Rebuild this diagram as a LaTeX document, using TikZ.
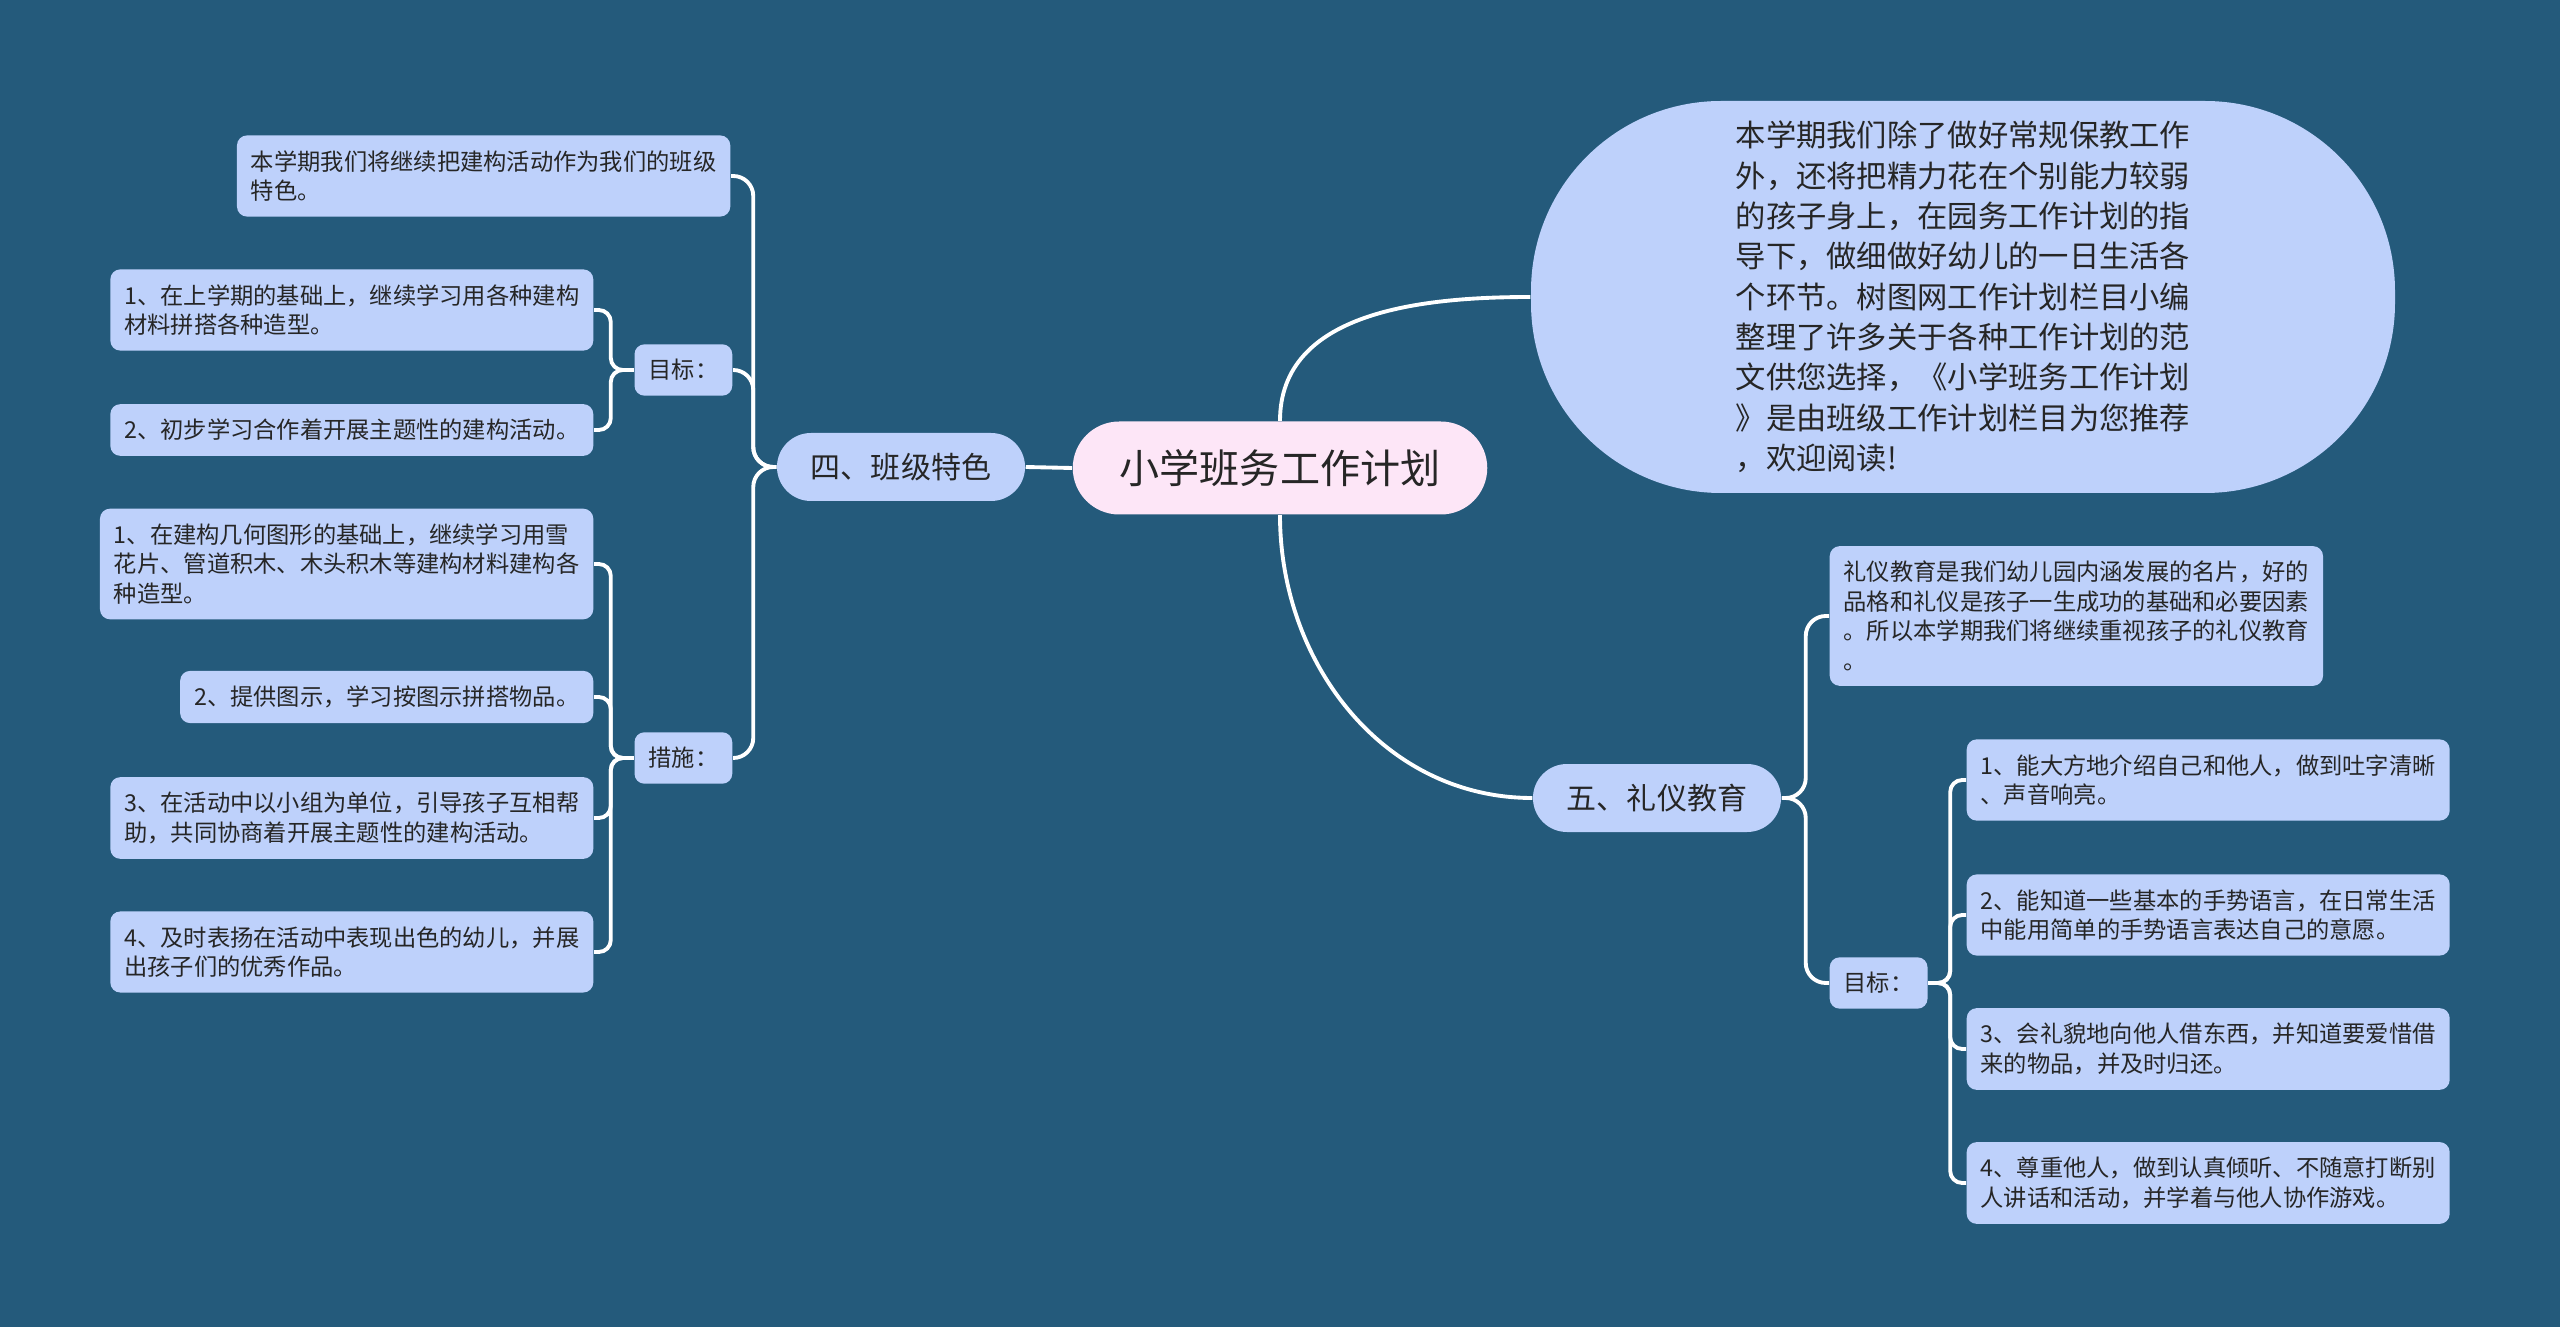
\documentclass[tikz,border=0pt]{standalone}
\usepackage{fontspec}
\setmainfont{Noto Sans CJK SC}
\definecolor{bgc}{RGB}{36,90,123}
\definecolor{boxc}{RGB}{190,209,251}
\definecolor{rootc}{RGB}{253,230,247}
\definecolor{txtc}{RGB}{38,38,38}
\begin{document}
\begin{tikzpicture}[
    x=0.1mm, y=-0.1mm,
    leaf/.style={fill=boxc, text=txtc, rounded corners=1mm, align=left, inner xsep=1.4mm, inner ysep=1.5mm, font=\fontsize{6.62pt}{8.4pt}\selectfont},
    branch/.style={fill=boxc, text=txtc, rounded corners=3.4mm, minimum height=6.8mm, inner xsep=3.4mm, font=\fontsize{8.54pt}{10pt}\selectfont},
    rootbox/.style={fill=rootc, text=txtc, rounded corners=4.65mm, minimum height=9.3mm, inner xsep=4.7mm, font=\fontsize{11.4pt}{13pt}\selectfont},
    introbox/.style={fill=boxc, text=txtc, rounded corners=19mm, minimum width=86.4mm, minimum height=39.2mm, align=left, font=\fontsize{8.62pt}{11.47pt}\selectfont},
    conn/.style={draw=white, line width=1.1pt, rounded corners=1.2mm},
    spine/.style={draw=white, line width=1.1pt, rounded corners=2mm}
]
\fill[bgc] (0,0) rectangle (2560,1327);

\node[rootbox] (root) at (1280,468) {小学班务工作计划};

% 四、班级特色
\node[branch] (sec4) at (901,467) {四、班级特色};
\node[leaf, anchor=east] (feat) at (731,176) {本学期我们将继续把建构活动作为我们的班级\\特色。};
\node[leaf, anchor=east] (goalL) at (733,370) {目标：};
\node[leaf, anchor=east] (goalL1) at (594,310) {1、在上学期的基础上，继续学习用各种建构\\材料拼搭各种造型。};
\node[leaf, anchor=east] (goalL2) at (594,430) {2、初步学习合作着开展主题性的建构活动。};
\node[leaf, anchor=east] (meas) at (733,758) {措施：};
\node[leaf, anchor=east] (meas1) at (594,564) {1、在建构几何图形的基础上，继续学习用雪\\花片、管道积木、木头积木等建构材料建构各\\种造型。};
\node[leaf, anchor=east] (meas2) at (594,697) {2、提供图示，学习按图示拼搭物品。};
\node[leaf, anchor=east] (meas3) at (594,818) {3、在活动中以小组为单位，引导孩子互相帮\\助，共同协商着开展主题性的建构活动。};
\node[leaf, anchor=east] (meas4) at (594,952) {4、及时表扬在活动中表现出色的幼儿，并展\\出孩子们的优秀作品。};

% intro
\node[introbox] (intro) at (1963,297) {本学期我们除了做好常规保教工作\\外，还将把精力花在个别能力较弱\\的孩子身上，在园务工作计划的指\\导下，做细做好幼儿的一日生活各\\个环节。树图网工作计划栏目小编\\整理了许多关于各种工作计划的范\\文供您选择，《小学班务工作计划\\》是由班级工作计划栏目为您推荐\\，欢迎阅读!};

% 五、礼仪教育
\node[branch] (sec5) at (1657,798) {五、礼仪教育};
\node[leaf, anchor=west] (manner) at (1829,616) {礼仪教育是我们幼儿园内涵发展的名片，好的\\品格和礼仪是孩子一生成功的基础和必要因素\\。所以本学期我们将继续重视孩子的礼仪教育\\。};
\node[leaf, anchor=west] (goalR) at (1829,983) {目标：};
\node[leaf, anchor=west] (goalR1) at (1966,780) {1、能大方地介绍自己和他人，做到吐字清晰\\、声音响亮。};
\node[leaf, anchor=west] (goalR2) at (1966,915) {2、能知道一些基本的手势语言，在日常生活\\中能用简单的手势语言表达自己的意愿。};
\node[leaf, anchor=west] (goalR3) at (1966,1049) {3、会礼貌地向他人借东西，并知道要爱惜借\\来的物品，并及时归还。};
\node[leaf, anchor=west] (goalR4) at (1966,1183) {4、尊重他人，做到认真倾听、不随意打断别\\人讲话和活动，并学着与他人协作游戏。};

\draw[conn] (root.west) -- (sec4.east);
\draw[conn] (root.north) to[out=90, in=180] (intro.west);
\draw[conn] (root.south) to[out=-90, in=180] (sec5.west);

\foreach \child in {feat, goalL, meas}
  \draw[spine] (sec4.west) -- ++(-23,0) |- (\child.east);
\foreach \child in {goalL1, goalL2}
  \draw[conn] (goalL.west) -- ++(-23,0) |- (\child.east);
\foreach \child in {meas1, meas2, meas3, meas4}
  \draw[conn] (meas.west) -- ++(-23,0) |- (\child.east);

\foreach \child in {manner, goalR}
  \draw[spine] (sec5.east) -- ++(24,0) |- (\child.west);
\foreach \child in {goalR1, goalR2, goalR3, goalR4}
  \draw[conn] (goalR.east) -- ++(22,0) |- (\child.west);
\end{tikzpicture}
\end{document}
